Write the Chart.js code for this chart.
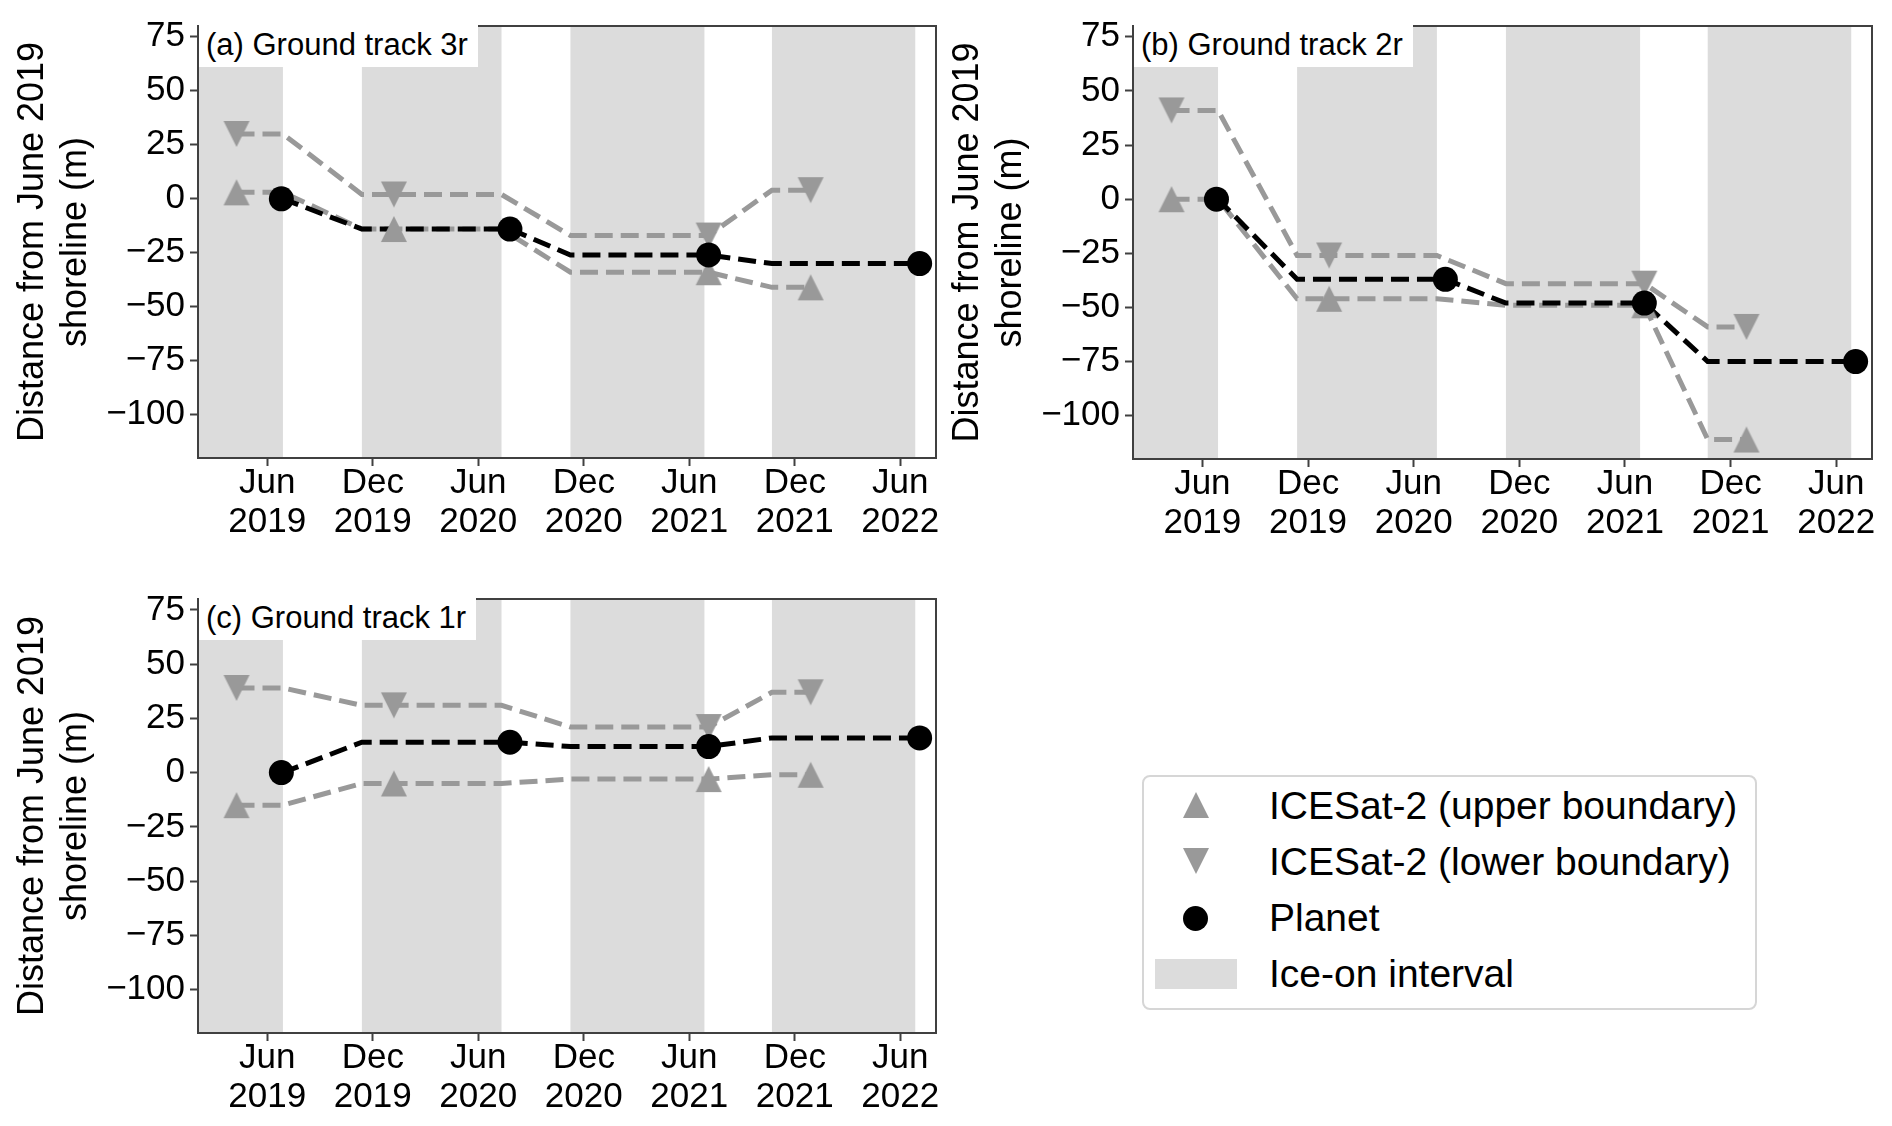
<!DOCTYPE html>
<html>
<head>
<meta charset="utf-8">
<script src="https://cdn.jsdelivr.net/npm/chart.js@4.4.1/dist/chart.umd.min.js"></script>
<style>
  body { margin: 0; background: #fff; width: 1892px; height: 1126px; position: relative; overflow: hidden;
         font-family: "Liberation Sans", Arial, sans-serif; color: #000; }
  canvas { position: absolute; }
  .tag { position: absolute; background: #fff; font-size: 31px; height: 44px; line-height: 44px;
         padding: 0 10px 0 7px; white-space: nowrap; }
  #legend { position: absolute; left: 1142px; top: 775px; width: 615px; height: 235px; box-sizing: border-box;
            border: 2px solid #d6d6d6; border-radius: 8px; background: #fff; }
  #legend .lbl { position: absolute; left: 125px; font-size: 39px; line-height: 56px; white-space: nowrap; }
  #legend .mk { position: absolute; }
  .up { width: 0; height: 0; border-left: 13px solid transparent; border-right: 13px solid transparent; border-bottom: 26px solid #999; }
  .down { width: 0; height: 0; border-left: 13px solid transparent; border-right: 13px solid transparent; border-top: 26px solid #999; }
  .dot { width: 25px; height: 25px; border-radius: 50%; background: #000; }
  .patch { width: 82px; height: 30px; background: #dcdcdc; }
</style>
</head>
<body>
<canvas id="c3r" width="950" height="560" style="left:0;top:0"></canvas>
<canvas id="c2r" width="957" height="561" style="left:935px;top:0"></canvas>
<canvas id="c1r" width="950" height="562" style="left:0;top:573px"></canvas>

<div class="tag" style="left:199px;top:23px">(a) Ground track 3r</div>
<div class="tag" style="left:1134px;top:23px">(b) Ground track 2r</div>
<div class="tag" style="left:199px;top:596px">(c) Ground track 1r</div>

<div id="legend">
  <div class="mk up" style="left:39px;top:15px"></div>
  <div class="lbl" style="top:1px">ICESat-2 (upper boundary)</div>
  <div class="mk down" style="left:39px;top:71px"></div>
  <div class="lbl" style="top:57px">ICESat-2 (lower boundary)</div>
  <div class="mk dot" style="left:39px;top:129px"></div>
  <div class="lbl" style="top:113px">Planet</div>
  <div class="mk patch" style="left:11px;top:182px"></div>
  <div class="lbl" style="top:169px">Ice-on interval</div>
</div>

<script>
// x values are months since 1 Jan 2019
const tickMonths = [5, 11, 17, 23, 29, 35, 41];
const tickLabels = [['Jun', '2019'], ['Dec', '2019'], ['Jun', '2020'], ['Dec', '2020'],
                    ['Jun', '2021'], ['Dec', '2021'], ['Jun', '2022']];
const yTicks = [-100, -75, -50, -25, 0, 25, 50, 75];

// ice-on intervals
const iceOnStart = [0, 10.38, 22.24, 33.7];
const iceOnEnd = [5.89, 18.32, 29.86, 41.85];

// acquisition dates
const icesatDates = [3.25, 12.2, 30.1, 35.9];
const planetDates = [5.8, 18.8, 30.1, 42.1];

// distance from June 2019 shoreline (m)
const upper3r = [3, -14, -34, -41];
const lower3r = [30, 2, -17, 4];
const planet3r = [0, -14, -26, -30];

const upper2r = [0, -46, -49, -111];
const lower2r = [41, -26, -39, -59];
const planet2r = [0, -37, -48, -75];

const upper1r = [-15, -5, -3, -1];
const lower1r = [39, 31, 21, 37];
const planet1r = [0, 14, 12, 16];

const gray = '#999999';
const axisColor = '#404040';
const fontFamily = '"Liberation Sans", Arial, sans-serif';

// each value holds across its ice-on interval, the line steps between them
function stepLine(dates, vals) {
  let pts = [];
  vals.forEach((v, i) => {
    let a = i === 0 ? dates[i] : Math.min(iceOnStart[i], dates[i]);
    let b = i === vals.length - 1 ? dates[i] : Math.max(iceOnEnd[i], dates[i]);
    pts.push({x: a, y: v});
    if (b !== a) pts.push({x: b, y: v});
  });
  return pts;
}

function markers(dates, vals) {
  return vals.map((v, i) => ({x: dates[i], y: v}));
}

function triangle(up) {
  let c = document.createElement('canvas');
  c.width = 28; c.height = 28;
  let g = c.getContext('2d');
  g.fillStyle = gray;
  g.beginPath();
  if (up) { g.moveTo(14, 1); g.lineTo(27, 27); g.lineTo(1, 27); }
  else { g.moveTo(1, 1); g.lineTo(27, 1); g.lineTo(14, 27); }
  g.closePath();
  g.fill();
  return c;
}
const upMark = triangle(true);
const downMark = triangle(false);

const backdrop = {
  id: 'backdrop',
  beforeDatasetsDraw(chart) {
    const {ctx, chartArea: a, scales: {x}} = chart;
    ctx.save();
    ctx.beginPath();
    ctx.rect(a.left, a.top, a.right - a.left, a.bottom - a.top);
    ctx.clip();
    ctx.fillStyle = '#dcdcdc';
    iceOnStart.forEach((s, i) => {
      let x0 = x.getPixelForValue(s), x1 = x.getPixelForValue(iceOnEnd[i]);
      ctx.fillRect(x0, a.top, x1 - x0, a.bottom - a.top);
    });
    ctx.restore();
  },
  afterDraw(chart) {
    const {ctx, chartArea: a} = chart;
    ctx.save();
    ctx.strokeStyle = axisColor;
    ctx.lineWidth = 2;
    ctx.strokeRect(a.left, a.top, a.right - a.left, a.bottom - a.top);
    ctx.restore();
  }
};

function makeChart(id, upper, lower, planet, rightPad, xAxisH) {
  let dash = {borderWidth: 5, borderDash: [18, 8], pointRadius: 0, fill: false, tension: 0};
  new Chart(document.getElementById(id), {
    type: 'line',
    data: {
      datasets: [
        Object.assign({data: stepLine(planetDates, planet), borderColor: '#000', order: 3}, dash),
        Object.assign({data: stepLine(icesatDates, lower), borderColor: gray, order: 4}, dash),
        Object.assign({data: stepLine(icesatDates, upper), borderColor: gray, order: 5}, dash),
        {type: 'scatter', data: markers(planetDates, planet), pointStyle: 'circle', pointRadius: 12.5,
         backgroundColor: '#000', borderWidth: 0, order: 0},
        {type: 'scatter', data: markers(icesatDates, upper), pointStyle: upMark, pointRadius: 13, order: 1},
        {type: 'scatter', data: markers(icesatDates, lower), pointStyle: downMark, pointRadius: 13, order: 2}
      ]
    },
    options: {
      responsive: false,
      animation: false,
      events: [],
      layout: {padding: {top: 22, right: rightPad, left: 0, bottom: 0}},
      plugins: {legend: {display: false}, tooltip: {enabled: false}},
      scales: {
        x: {
          type: 'linear', min: 1.06, max: 43.03,
          afterBuildTicks: s => { s.ticks = tickMonths.map(v => ({value: v})); },
          afterFit: s => { s.height = xAxisH; },
          grid: {drawOnChartArea: false, drawTicks: true, tickLength: 8, tickWidth: 2, tickColor: axisColor},
          border: {display: false},
          ticks: {
            autoSkip: false, maxRotation: 0, padding: -2, color: '#000',
            font: {family: fontFamily, size: 35, lineHeight: 1.12},
            callback: v => tickLabels[tickMonths.indexOf(v)]
          }
        },
        y: {
          type: 'linear', min: -120, max: 80,
          afterBuildTicks: s => { s.ticks = yTicks.map(v => ({value: v})); },
          afterFit: s => { s.width = 198; },
          grid: {drawOnChartArea: false, drawTicks: true, tickLength: 8, tickWidth: 2, tickColor: axisColor},
          border: {display: false},
          ticks: {
            padding: 5, color: '#000',
            font: {family: fontFamily, size: 35},
            callback: v => String(v).replace('-', '\u2212')
          },
          title: {
            display: true, color: '#000',
            text: ['Distance from June 2019', 'shoreline (m)'],
            font: {family: fontFamily, size: 36, lineHeight: 1.2},
            padding: {top: 11, bottom: 0}
          }
        }
      }
    },
    plugins: [backdrop]
  });
}

makeChart('c3r', upper3r, lower3r, planet3r, 13, 102);
makeChart('c2r', upper2r, lower2r, planet2r, 20, 102);
makeChart('c1r', upper1r, lower1r, planet1r, 13, 102);
</script>
</body>
</html>
